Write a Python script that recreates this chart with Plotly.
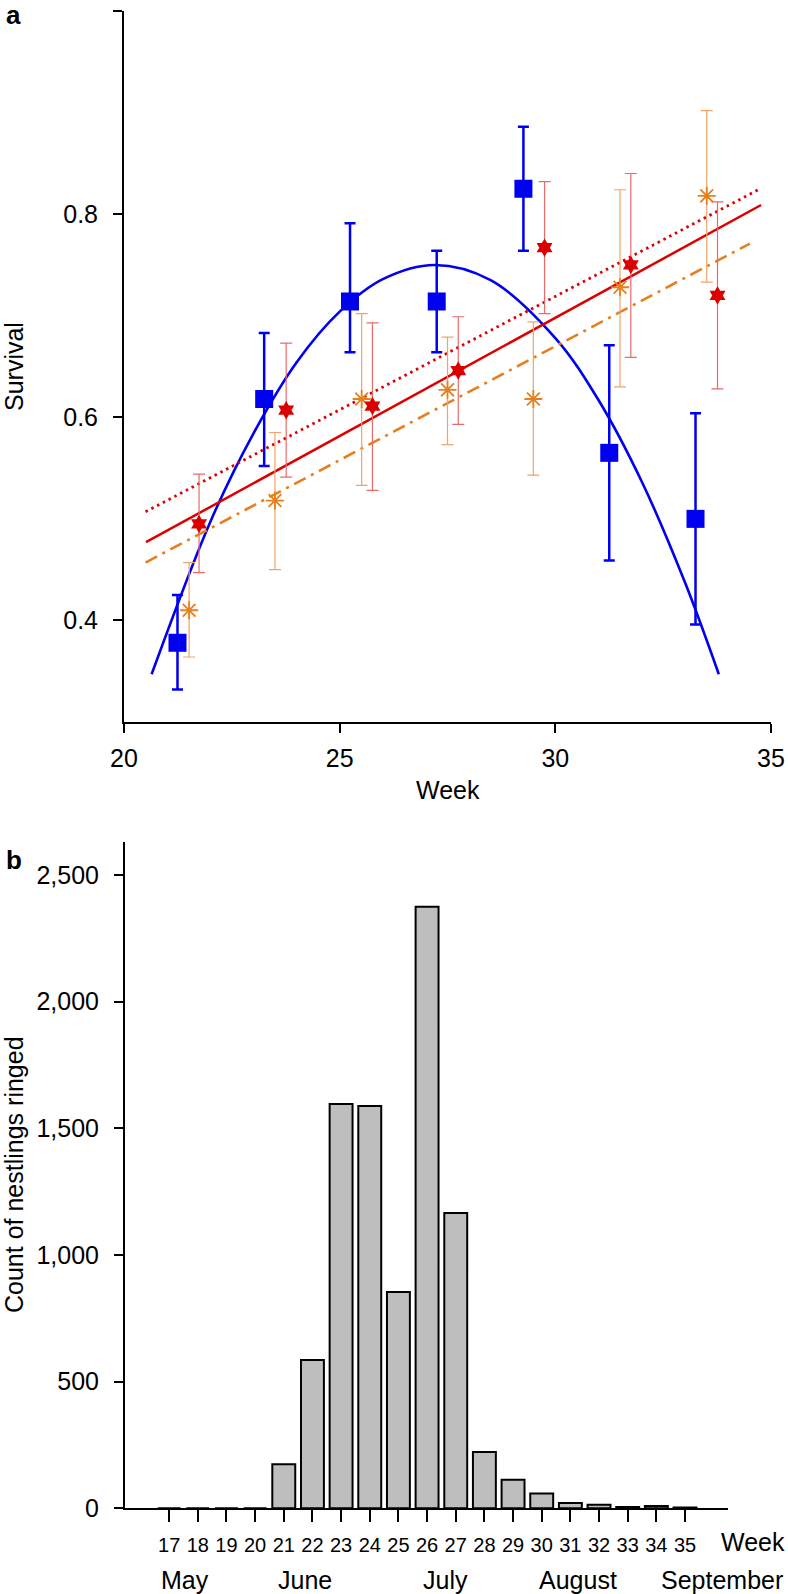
import plotly.graph_objects as go

# ---------------- Panel a data ----------------
blue_week = [21.24, 23.25, 25.24, 27.25, 29.26, 31.25, 33.25]
blue_surv = [0.378, 0.618, 0.714, 0.714, 0.825, 0.565, 0.500]
blue_hi   = [0.425, 0.683, 0.791, 0.764, 0.886, 0.671, 0.604]
blue_lo   = [0.332, 0.552, 0.664, 0.664, 0.764, 0.459, 0.396]

red_week = [21.74, 23.76, 25.76, 27.75, 29.75, 31.75, 33.76]
red_surv = [0.495, 0.607, 0.611, 0.646, 0.767, 0.750, 0.720]
red_hi   = [0.544, 0.673, 0.693, 0.699, 0.832, 0.840, 0.812]
red_lo   = [0.447, 0.541, 0.528, 0.593, 0.702, 0.659, 0.628]

orange_week = [21.51, 23.50, 25.51, 27.50, 29.49, 31.50, 33.51]
orange_surv = [0.410, 0.518, 0.618, 0.627, 0.618, 0.728, 0.818]
orange_hi   = [0.457, 0.585, 0.702, 0.679, 0.694, 0.824, 0.902]
orange_lo   = [0.364, 0.450, 0.533, 0.573, 0.543, 0.630, 0.733]

# fitted curves
blue_fit_week = [20.64, 22.0, 23.0, 24.0, 25.0, 26.0, 27.2, 28.5, 30.0, 31.0, 32.0, 33.0, 33.79]
blue_fit_surv = [0.347, 0.497, 0.584, 0.654, 0.704, 0.736, 0.750, 0.735, 0.678, 0.617, 0.537, 0.438, 0.347]
red_fit_week = [20.51, 34.77]
red_fit_surv = [0.477, 0.809]
red_dot_week = [20.50, 34.75]
red_dot_surv = [0.507, 0.825]
orange_fit_week = [20.50, 34.51]
orange_fit_surv = [0.457, 0.771]

a_xticks = [20, 25, 30, 35]
a_yticks = [0.4, 0.6, 0.8, 1.0]
a_yticktext = ["0.4", "0.6", "0.8", "1"]

# ---------------- Panel b data ----------------
weeks = [17, 18, 19, 20, 21, 22, 23, 24, 25, 26, 27, 28, 29, 30, 31, 32, 33, 34, 35]
counts = [0, 0, 0, 0, 174, 585, 1596, 1588, 854, 2374, 1166, 222, 113, 58, 21, 14, 5, 9, 3]
b_yticks = [0, 500, 1000, 1500, 2000, 2500]
b_yticktext = ["0", "500", "1,000", "1,500", "2,000", "2,500"]
months = ["May", "June", "July", "August", "September"]
month_pos = [17.56, 21.74, 26.63, 31.26, 36.3]

FONT = "Liberation Sans, Arial, Helvetica, sans-serif"
BLUE = "#0000F0"
RED = "#DD0000"
RED_ERR = "#E86A6A"
ORANGE = "#E5801F"
ORANGE_ERR = "#EFA46A"

W, H = 788, 1594

def px_x(p):
    return p / W

def px_y(p):
    return 1 - p / H

fig = go.Figure()

# fitted lines
fig.add_trace(go.Scatter(x=blue_fit_week, y=blue_fit_surv, mode="lines", line=dict(color=BLUE, width=2.6, shape="spline"),
                         xaxis="x", yaxis="y", showlegend=False, hoverinfo="skip"))
fig.add_trace(go.Scatter(x=red_dot_week, y=red_dot_surv, mode="lines", line=dict(color=RED, width=2.8, dash="2.5px,4px"),
                         xaxis="x", yaxis="y", showlegend=False, hoverinfo="skip"))
fig.add_trace(go.Scatter(x=red_fit_week, y=red_fit_surv, mode="lines", line=dict(color=RED, width=2.5),
                         xaxis="x", yaxis="y", showlegend=False, hoverinfo="skip"))
fig.add_trace(go.Scatter(x=orange_fit_week, y=orange_fit_surv, mode="lines", line=dict(color=ORANGE, width=2.6, dash="13px,6px,3px,6px"),
                         xaxis="x", yaxis="y", showlegend=False, hoverinfo="skip"))

def err(vals, hi, lo):
    return dict(type="data", symmetric=False,
                array=[h - v for h, v in zip(hi, vals)],
                arrayminus=[v - l for v, l in zip(vals, lo)])

e_orange = err(orange_surv, orange_hi, orange_lo)
e_orange.update(color=ORANGE_ERR, thickness=1.2, width=6)
fig.add_trace(go.Scatter(x=orange_week, y=orange_surv, mode="markers",
                         marker=dict(symbol="asterisk-open", size=15, color=ORANGE, line=dict(color=ORANGE, width=1.8)),
                         error_y=e_orange, xaxis="x", yaxis="y", showlegend=False))

e_red = err(red_surv, red_hi, red_lo)
e_red.update(color=RED_ERR, thickness=1.2, width=6)
fig.add_trace(go.Scatter(x=red_week, y=red_surv, mode="markers",
                         marker=dict(symbol="hexagram", size=14, color=RED, line=dict(width=0)),
                         error_y=e_red, xaxis="x", yaxis="y", showlegend=False))

e_blue = err(blue_surv, blue_hi, blue_lo)
e_blue.update(color=BLUE, thickness=2.5, width=5.5)
fig.add_trace(go.Scatter(x=blue_week, y=blue_surv, mode="markers",
                         marker=dict(symbol="square", size=18, color=BLUE, line=dict(width=0)),
                         error_y=e_blue, xaxis="x", yaxis="y", showlegend=False))

# bars
fig.add_trace(go.Bar(x=weeks, y=counts, width=0.8, marker=dict(color="#BEBEBE", line=dict(color="black", width=2)),
                     xaxis="x2", yaxis="y2", showlegend=False))

axis_common = dict(showgrid=False, zeroline=False, showline=True, linecolor="black", linewidth=2,
                   ticks="outside", tickcolor="black", tickwidth=2, mirror=False, automargin=False)

fig.update_layout(
    template="none",
    width=W, height=H,
    margin=dict(l=0, r=0, t=0, b=0, pad=0),
    paper_bgcolor="white", plot_bgcolor="white",
    font=dict(family=FONT, color="black"),
    xaxis=dict(axis_common, domain=[px_x(124), px_x(771)], range=[20, 35], tickvals=a_xticks,
               ticklen=9, tickfont=dict(size=25), anchor="y", ticklabelstandoff=4),
    yaxis=dict(axis_common, domain=[px_y(722), px_y(11)], range=[0.3, 1.0], tickvals=a_yticks,
               ticktext=a_yticktext, ticklen=9, tickfont=dict(size=25), anchor="x", ticklabelstandoff=10),
    xaxis2=dict(axis_common, domain=[px_x(125), px_x(728)], range=[15.46, 36.5], tickvals=weeks,
                ticklen=12, tickfont=dict(size=20), anchor="y2", ticklabelstandoff=6),
    yaxis2=dict(axis_common, domain=[px_y(1508.3), px_y(842)], range=[0, 2630], tickvals=b_yticks,
                ticktext=b_yticktext, ticklen=9, tickfont=dict(size=25), anchor="x2", ticklabelstandoff=10),
    bargap=0.2,
)

ann = [
    dict(text="<b>a</b>", x=px_x(13), y=px_y(15), xref="paper", yref="paper", showarrow=False,
         font=dict(size=26, family=FONT), xanchor="center", yanchor="middle"),
    dict(text="<b>b</b>", x=px_x(14), y=px_y(860), xref="paper", yref="paper", showarrow=False,
         font=dict(size=26, family=FONT), xanchor="center", yanchor="middle"),
    dict(text="Survival", x=px_x(14), y=px_y(367), xref="paper", yref="paper", showarrow=False,
         textangle=-90, font=dict(size=25, family=FONT), xanchor="center", yanchor="middle"),
    dict(text="Week", x=px_x(448), y=px_y(790), xref="paper", yref="paper", showarrow=False,
         font=dict(size=25, family=FONT), xanchor="center", yanchor="middle"),
    dict(text="Count of nestlings ringed", x=px_x(14), y=px_y(1175), xref="paper", yref="paper", showarrow=False,
         textangle=-90, font=dict(size=25, family=FONT), xanchor="center", yanchor="middle"),
    dict(text="Week", x=px_x(753), y=px_y(1542), xref="paper", yref="paper", showarrow=False,
         font=dict(size=25, family=FONT), xanchor="center", yanchor="middle"),
]
for m, p in zip(months, month_pos):
    ann.append(dict(text=m, x=p, y=px_y(1580), xref="x2", yref="paper", showarrow=False,
                    font=dict(size=25, family=FONT), xanchor="center", yanchor="middle"))
fig.update_layout(annotations=ann)

# remove the default 8px page margin so the figure fills the window exactly
fig.write_html("out.html", config={"displayModeBar": False},
               post_script="document.body.style.margin='0px';document.body.style.overflow='hidden';")
